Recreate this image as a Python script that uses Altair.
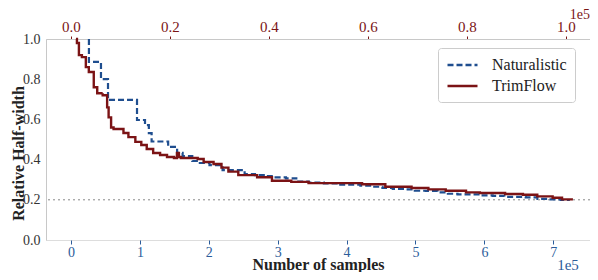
import altair as alt
import pandas as pd

series_names = ["Naturalistic", "TrimFlow"]

# Naturalistic (bottom axis, units of 1e5 samples)
nat_x = [0.26, 0.26, 0.435, 0.537, 0.958, 1.074, 1.13, 1.17, 1.41, 1.54, 1.62, 1.76, 1.87,
         2.01, 2.20, 2.52, 2.67, 2.82, 2.97, 3.12, 3.27, 3.45, 3.67, 3.88, 4.20, 4.38,
         4.52, 4.67, 4.84, 4.99, 5.15, 5.32, 5.47, 5.61, 5.94, 6.12, 6.29, 6.60, 6.77,
         6.92, 7.11, 7.24]
nat_y = [1.0, 0.886, 0.80, 0.697, 0.597, 0.572, 0.532, 0.49, 0.463, 0.433, 0.418, 0.393, 0.383,
         0.373, 0.348, 0.328, 0.323, 0.318, 0.312, 0.307, 0.29, 0.286, 0.282, 0.275, 0.27, 0.265,
         0.259, 0.254, 0.252, 0.245, 0.244, 0.237, 0.23, 0.227, 0.222, 0.22, 0.215, 0.212, 0.205,
         0.202, 0.199, 0.199]

# TrimFlow (top axis, units of 1e5 samples)
trim_x = [0.010, 0.012, 0.016, 0.022, 0.030, 0.036, 0.046, 0.053, 0.064, 0.073, 0.076, 0.081,
          0.086, 0.106, 0.116, 0.130, 0.142, 0.153, 0.166, 0.180, 0.194, 0.208, 0.214, 0.218,
          0.222, 0.256, 0.268, 0.288, 0.304, 0.318, 0.338, 0.376, 0.406, 0.445, 0.480, 0.588,
          0.635, 0.688, 0.722, 0.757, 0.798, 0.826, 0.877, 0.913, 0.942, 0.973, 0.992, 1.014]
trim_y = [1.0, 0.98, 0.92, 0.91, 0.86, 0.836, 0.76, 0.73, 0.72, 0.66, 0.61, 0.56,
          0.552, 0.532, 0.512, 0.488, 0.473, 0.453, 0.433, 0.423, 0.413, 0.408, 0.433, 0.413,
          0.408, 0.403, 0.388, 0.378, 0.36, 0.34, 0.323, 0.312, 0.295, 0.289, 0.283, 0.277,
          0.265, 0.259, 0.252, 0.245, 0.237, 0.234, 0.229, 0.225, 0.217, 0.21, 0.202, 0.202]

bottom_ticks = [0, 1, 2, 3, 4, 5, 6, 7]
top_ticks = [0.0, 0.2, 0.4, 0.6, 0.8, 1.0]
y_ticks = [0.0, 0.2, 0.4, 0.6, 0.8, 1.0]
target_level = [0.2]
exponent_label = ["1e5"]

nat = pd.DataFrame({"x": nat_x, "y": nat_y, "series": series_names[0], "i": range(len(nat_x))})
trim = pd.DataFrame({"x": trim_x, "y": trim_y, "series": series_names[1], "i": range(len(trim_x))})

FONT = "Liberation Serif"
BLUE_LINE = "#1f4e8f"
RED_LINE = "#7b1315"
BLUE_TXT = "#2b5c9a"
RED_TXT = "#7a1515"

color_scale = alt.Scale(domain=series_names, range=[BLUE_LINE, RED_LINE])
dash_scale = alt.Scale(domain=series_names, range=[[6, 3], [1, 0]])
legend = alt.Legend(title=None, orient="none", legendX=392, legendY=9,
                    symbolType="M-1,0L3,0", symbolSize=225, symbolStrokeWidth=2.5,
                    labelFont=FONT, labelFontSize=16, labelColor="#222",
                    strokeColor="#cccccc", cornerRadius=3, padding=8,
                    labelOffset=28, rowPadding=4, fillColor="white")

y_axis = alt.Axis(title="Relative Half-width", values=y_ticks, format=".1f", ticks=False,
                  grid=False, domainColor="#c8c8c8", labelFont=FONT, labelFontSize=14,
                  labelColor="#333", labelPadding=6, titleFont=FONT, titleFontSize=16,
                  titleFontWeight="bold", titleColor="#222", titleAngle=-90,
                  titleX=-23, titleY=114, titleBaseline="alphabetic", titleAlign="center")
y_enc = alt.Y("y:Q", scale=alt.Scale(domain=[0, 1], nice=False), axis=y_axis)

nat_line = alt.Chart(nat).mark_line(strokeWidth=2.2, interpolate="step-after").encode(
    x=alt.X("x:Q", scale=alt.Scale(domain=[-0.363, 7.533], nice=False, zero=False),
            axis=alt.Axis(orient="bottom", values=bottom_ticks, format="d", domain=False,
                          grid=False, tickColor=BLUE_TXT, tickSize=4, labelColor=BLUE_TXT,
                          labelFont=FONT, labelFontSize=14, labelPadding=1,
                          title="Number of samples", titleFont=FONT, titleFontSize=16,
                          titleFontWeight="bold", titleColor="#222",
                          titleY=29, titleBaseline="alphabetic")),
    y=y_enc,
    color=alt.Color("series:N", scale=color_scale, legend=legend),
    strokeDash=alt.StrokeDash("series:N", scale=dash_scale, legend=legend),
    order=alt.Order("i:Q"),
)

trim_line = alt.Chart(trim).mark_line(strokeWidth=2.4, interpolate="step-after").encode(
    x=alt.X("x:Q", scale=alt.Scale(domain=[-0.0505, 1.0485], nice=False, zero=False),
            axis=alt.Axis(orient="top", values=top_ticks, format=".1f", domain=True,
                          domainColor="#c8c8c8", grid=False, tickColor=RED_TXT, tickSize=3,
                          labelColor=RED_TXT, labelFont=FONT, labelFontSize=15,
                          labelPadding=2, title=None)),
    y=y_enc,
    color=alt.Color("series:N", scale=color_scale, legend=legend),
    strokeDash=alt.StrokeDash("series:N", scale=dash_scale, legend=legend),
    order=alt.Order("i:Q"),
)

rule = alt.Chart(pd.DataFrame({"v": target_level})).mark_rule(
    color="#888888", strokeDash=[2, 3], strokeWidth=1).encode(y=alt.Y("v:Q"))

ann = pd.DataFrame({"t": exponent_label})
bottom_exp = alt.Chart(ann).mark_text(font=FONT, fontSize=15, color=BLUE_TXT, align="center",
                                      baseline="middle").encode(
    text="t:N", x=alt.value(522), y=alt.value(226))
top_exp = alt.Chart(ann).mark_text(font=FONT, fontSize=14, color=RED_TXT, align="right",
                                   baseline="top").encode(
    text="t:N", x=alt.value(544), y=alt.value(-31))

chart = alt.layer(rule, nat_line, trim_line, bottom_exp, top_exp).resolve_scale(
    x="independent"
).properties(
    width=544, height=201,
    autosize=alt.AutoSizeParams(type="none"),
    padding={"left": 38, "top": 31, "right": 0, "bottom": 32},
).configure_view(stroke=None).configure(background="white", font=FONT)

chart.save("out.html", embed_options={"renderer": "svg", "actions": False})
